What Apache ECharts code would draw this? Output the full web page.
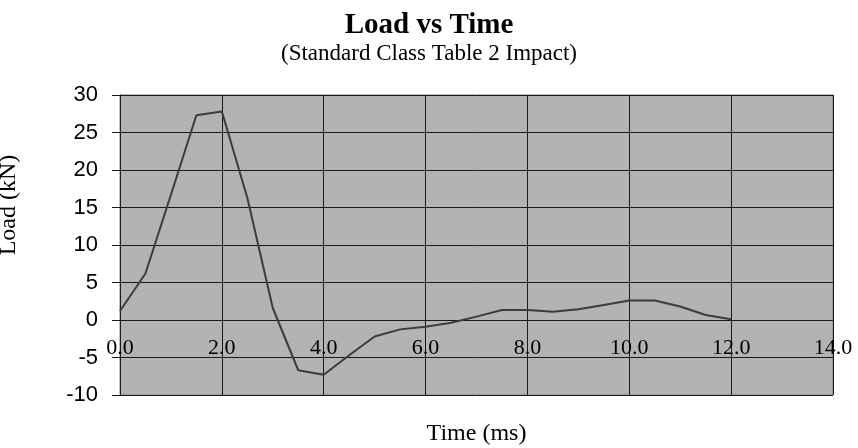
<!DOCTYPE html>
<html>
<head>
<meta charset="utf-8">
<script src="https://cdn.jsdelivr.net/npm/echarts@6/dist/echarts.min.js"></script>
<style>html,body{margin:0;padding:0;background:#fff;}#c{width:858px;height:448px;}</style>
</head>
<body>
<div id="c"></div>
<script>
var timeMs = [0.0, 0.5, 1.0, 1.5, 2.0, 2.5, 3.0, 3.5, 4.0, 4.5, 5.0, 5.5, 6.0, 6.5, 7.0, 7.5, 8.0, 8.5, 9.0, 9.5, 10.0, 10.5, 11.0, 11.5, 12.0];
var loadKN = [1.2, 6.2, 16.7, 27.3, 27.8, 16.3, 1.6, -6.7, -7.3, -4.7, -2.2, -1.25, -0.9, -0.36, 0.45, 1.33, 1.33, 1.1, 1.42, 2.0, 2.6, 2.6, 1.8, 0.67, 0.1];
var titleText = 'Load vs Time';
var subtitleText = '(Standard Class Table 2 Impact)';
var xName = 'Time (ms)';
var yName = 'Load (kN)';
var yMin = -10, yMax = 30;

var chart = echarts.init(document.getElementById('c'), null, {renderer: 'canvas'});
var pts = timeMs.map(function (t, i) { return [t, loadKN[i]]; });
chart.setOption({
  animation: false,
  backgroundColor: '#ffffff',
  title: {
    text: titleText,
    subtext: subtitleText,
    left: 'center',
    top: 6,
    itemGap: 2,
    textStyle: {fontFamily: 'Liberation Serif', fontWeight: 'bold', fontSize: 29, color: '#000'},
    subtextStyle: {fontFamily: 'Liberation Serif', fontSize: 23, color: '#000'}
  },
  grid: {
    left: 120, right: 25, top: 95, bottom: 53,
    containLabel: false, outerBoundsMode: 'none',
    show: true, backgroundColor: '#b3b3b3', borderColor: '#808080', borderWidth: 1
  },
  xAxis: {
    type: 'value', min: 0, max: 14, interval: 2,
    name: xName, nameLocation: 'middle', nameGap: 102,
    nameTextStyle: {fontFamily: 'Liberation Serif', fontSize: 24, color: '#000'},
    axisLine: {show: true, onZero: false, lineStyle: {color: '#1a1a1a', width: 1}},
    axisTick: {show: true, length: 7, lineStyle: {color: '#1a1a1a'}},
    axisLabel: {fontFamily: 'Liberation Serif', fontSize: 22, color: '#000', margin: 17,
      formatter: function (v) { return v.toFixed(1); }},
    splitLine: {show: true, lineStyle: {color: '#1a1a1a', width: 1}}
  },
  yAxis: {
    type: 'value', min: yMin, max: yMax, interval: 5,
    name: yName, nameLocation: 'middle', nameGap: 99, nameRotate: 90,
    nameTextStyle: {fontFamily: 'Liberation Serif', fontSize: 24, color: '#000', padding: [0, 0, 0, 80]},
    axisLine: {show: true, onZero: false, lineStyle: {color: '#1a1a1a', width: 1}},
    axisTick: {show: true, length: 8, lineStyle: {color: '#1a1a1a'}},
    axisLabel: {fontFamily: 'Liberation Sans', fontSize: 22, color: '#000', margin: 22},
    splitLine: {show: true, lineStyle: {color: '#1a1a1a', width: 1}}
  },
  series: [{
    type: 'line', data: pts, showSymbol: false, symbol: 'none',
    lineStyle: {color: '#3c3c3c', width: 2}
  }]
});
// place the x axis (line, ticks, labels, name) on the y = 0 line
var pZero = chart.convertToPixel({yAxisIndex: 0}, 0);
var pMin = chart.convertToPixel({yAxisIndex: 0}, yMin);
chart.setOption({xAxis: {offset: pZero - pMin}});
</script>
</body>
</html>
